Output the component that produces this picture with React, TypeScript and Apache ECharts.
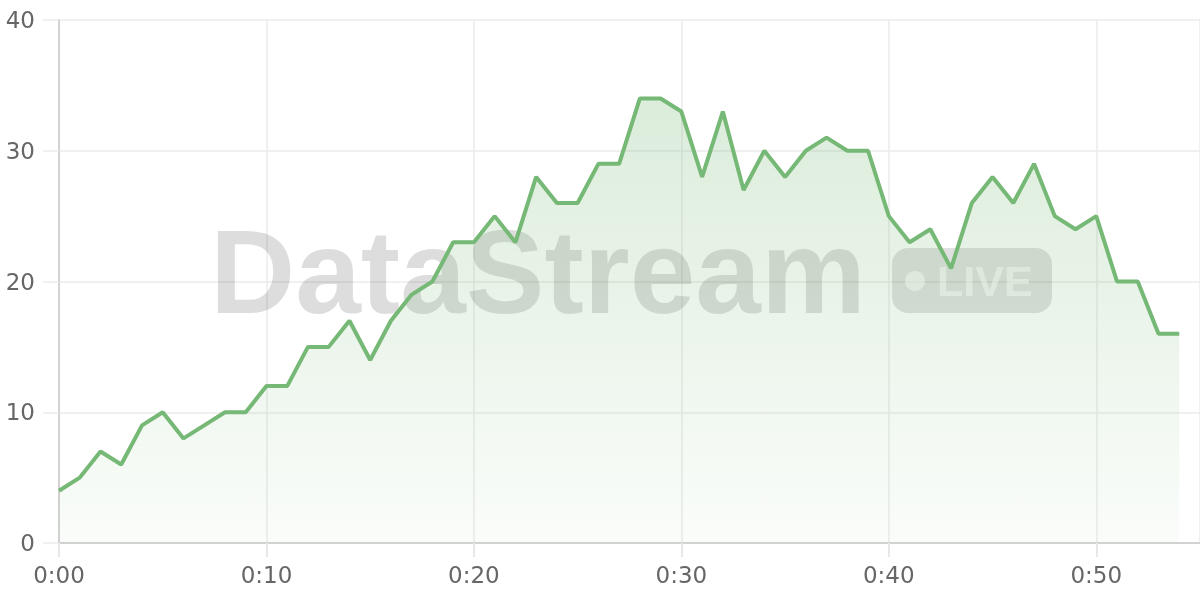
import React, { useEffect, useRef } from "react";
import * as echarts from "echarts";

const minutes = [
  0, 1, 2, 3, 4, 5, 6, 7, 8, 9, 10, 11, 12, 13, 14, 15, 16, 17, 18, 19, 20,
  21, 22, 23, 24, 25, 26, 27, 28, 29, 30, 31, 32, 33, 34, 35, 36, 37, 38, 39,
  40, 41, 42, 43, 44, 45, 46, 47, 48, 49, 50, 51, 52, 53, 54,
];
const values = [
  4, 5, 7, 6, 9, 10, 8, 9, 10, 10, 12, 12, 15, 15, 17, 14, 17, 19, 20, 23, 23,
  25, 23, 28, 26, 26, 29, 29, 34, 34, 33, 28, 33, 27, 30, 28, 30, 31, 30, 30,
  25, 23, 24, 21, 26, 28, 26, 29, 25, 24, 25, 20, 20, 16, 16,
];
const watermarkText = "DataStream";
const badgeText = "LIVE";

const fmt = (m: number) => `${Math.floor(m / 60)}:${String(m % 60).padStart(2, "0")}`;

export default function App() {
  const ref = useRef<HTMLDivElement>(null);
  useEffect(() => {
    if (!ref.current) return;
    const chart = echarts.init(ref.current, undefined, { renderer: "svg" });
    const labelStyle = { color: "#666", fontSize: 23, fontFamily: "DejaVu Sans" };
    chart.setOption({
      animation: false,
      grid: { left: 59, right: 0, top: 20, bottom: 57, containLabel: false },
      xAxis: {
        type: "value",
        min: 0,
        max: 55,
        interval: 10,
        axisLine: { show: true, lineStyle: { color: "#d2d2d2", width: 2 } },
        axisTick: { show: true, length: 14, lineStyle: { color: "#e8e8e8", width: 2 } },
        axisLabel: {
          ...labelStyle,
          margin: 20,
          showMaxLabel: false,
          formatter: (v: number) => fmt(v),
        },
        splitLine: { show: true, lineStyle: { color: "#ebebeb", width: 1.5 } },
      },
      yAxis: {
        type: "value",
        min: 0,
        max: 40,
        interval: 10,
        axisLine: { show: true, lineStyle: { color: "#d2d2d2", width: 2 } },
        axisTick: { show: true, length: 16, lineStyle: { color: "#ebebeb", width: 1.5 } },
        axisLabel: { ...labelStyle, margin: 24 },
        splitLine: { show: true, lineStyle: { color: "#ebebeb", width: 1.5 } },
      },
      graphic: [
        {
          type: "text",
          z: 1,
          silent: true,
          style: {
            text: watermarkText,
            x: 210,
            y: 272,
            align: "left",
            verticalAlign: "middle",
            font: "bold 118px 'Liberation Sans'",
            fill: "rgba(0,0,0,0.135)",
          },
        },
        {
          type: "rect",
          z: 1,
          silent: true,
          shape: { x: 892, y: 248, width: 160, height: 65, r: 16 },
          style: { fill: "rgba(0,0,0,0.12)" },
        },
        {
          type: "circle",
          z: 1,
          silent: true,
          shape: { cx: 915, cy: 281, r: 10 },
          style: { fill: "rgba(255,255,255,0.6)" },
        },
        {
          type: "text",
          z: 1,
          silent: true,
          style: {
            text: badgeText,
            x: 937,
            y: 281,
            align: "left",
            verticalAlign: "middle",
            font: "bold 43px 'Liberation Sans'",
            fill: "rgba(255,255,255,0.6)",
          },
        },
      ],
      series: [
        {
          type: "line",
          z: 2,
          data: minutes.map((m, i) => [m, values[i]]),
          showSymbol: false,
          lineStyle: { color: "#76b875", width: 4 },
          itemStyle: { color: "#76b875" },
          areaStyle: {
            color: new echarts.graphic.LinearGradient(0, 0, 0, 1, [
              { offset: 0, color: "rgba(118,184,117,0.37)" },
              { offset: 1, color: "rgba(118,184,117,0.05)" },
            ]),
          },
        },
      ],
    });
    return () => chart.dispose();
  }, []);
  return (
    <div
      ref={ref}
      style={{ position: "fixed", left: 0, top: 0, width: 1200, height: 600 }}
    />
  );
}
